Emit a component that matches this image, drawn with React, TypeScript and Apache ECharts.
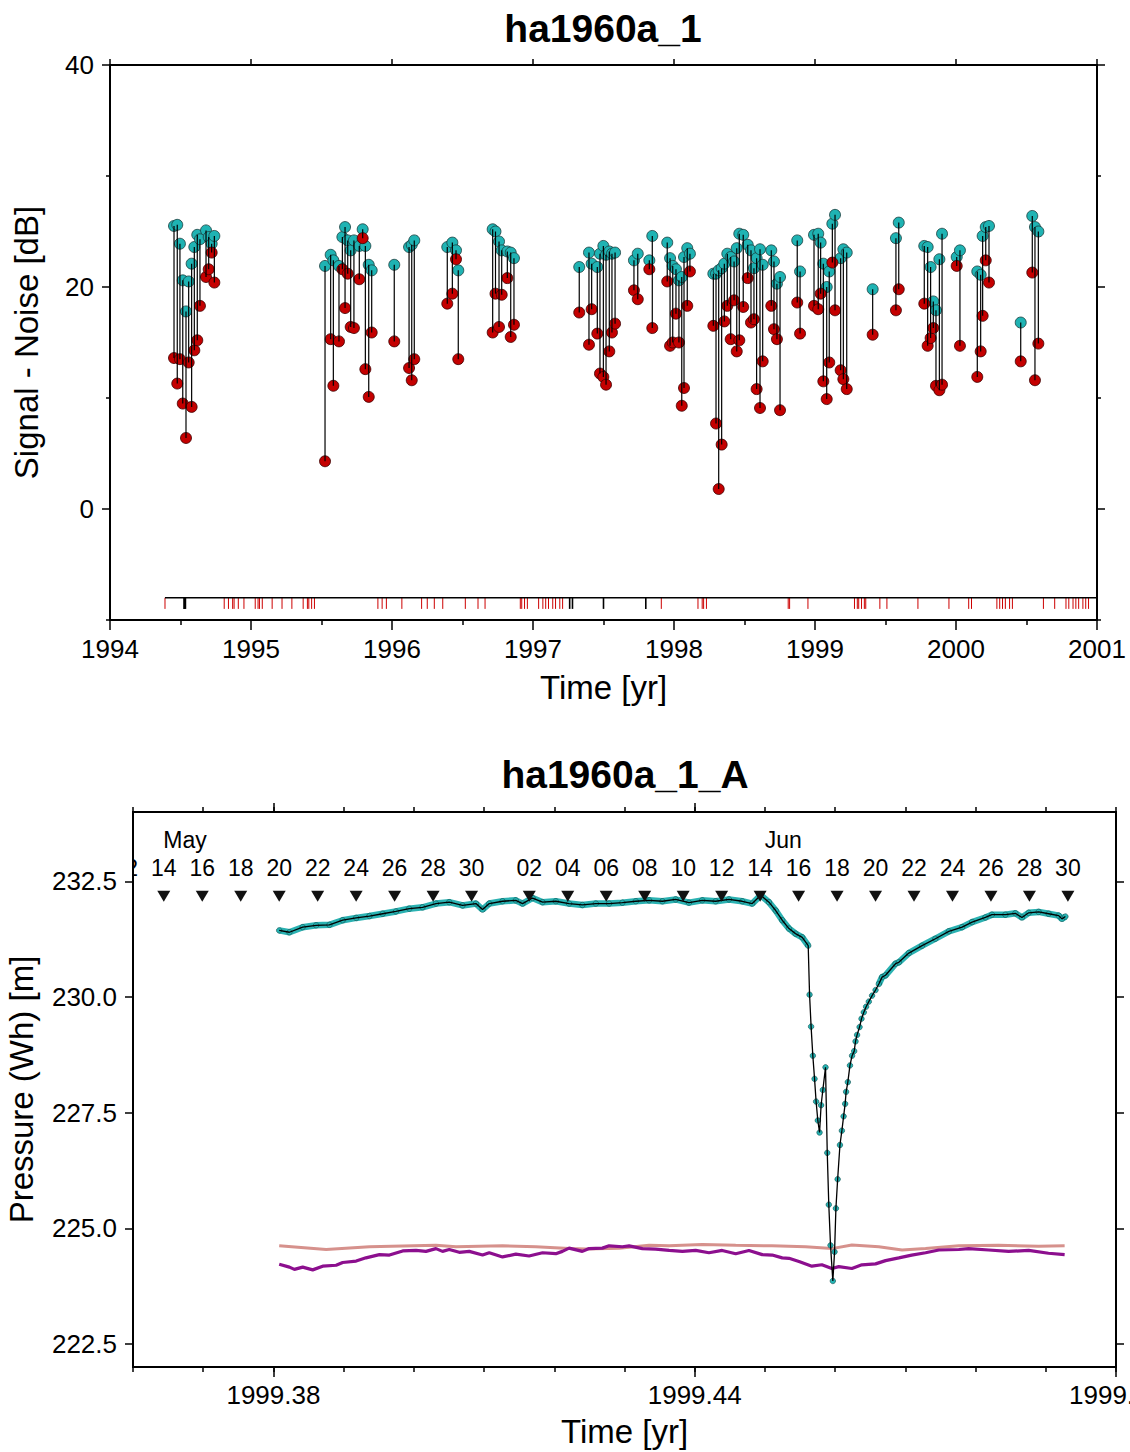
import React, { useEffect, useRef } from 'react';
import * as echarts from 'echarts';

const FONT = '"Liberation Sans", Arial, Helvetica, sans-serif';

// ---------- Top chart: ha1960a_1 (signal - noise) ----------
const topYears = [
  1994.454, 1994.477, 1994.496, 1994.516, 1994.539, 1994.558, 1994.579, 1994.598, 1994.619, 1994.638, 1994.681, 1994.700, 1994.721, 1994.740,
  1995.525, 1995.565, 1995.584, 1995.624, 1995.648, 1995.667, 1995.686, 1995.707, 1995.730, 1995.768, 1995.792, 1995.811, 1995.835, 1995.856,
  1996.016, 1996.121, 1996.140, 1996.158,
  1996.392, 1996.428, 1996.454, 1996.470,
  1996.714, 1996.734, 1996.759, 1996.778, 1996.818, 1996.842, 1996.865,
  1997.328, 1997.397, 1997.416, 1997.456, 1997.475, 1997.499, 1997.518, 1997.541, 1997.560, 1997.582,
  1997.716, 1997.743, 1997.825, 1997.846,
  1997.952, 1997.972, 1997.991, 1998.014, 1998.035, 1998.055, 1998.071, 1998.094, 1998.113,
  1998.279, 1998.298, 1998.317, 1998.338, 1998.357, 1998.378, 1998.402, 1998.426, 1998.445, 1998.463, 1998.491, 1998.523, 1998.546, 1998.567, 1998.586, 1998.610, 1998.629, 1998.690, 1998.709, 1998.730, 1998.752,
  1998.874, 1998.894,
  1998.993, 1999.023, 1999.040, 1999.059, 1999.083, 1999.101, 1999.123, 1999.142, 1999.182, 1999.201, 1999.225,
  1999.409, 1999.574, 1999.594,
  1999.775, 1999.799, 1999.820, 1999.839, 1999.858, 1999.882, 1999.901, 2000.005, 2000.028,
  2000.151, 2000.175, 2000.189, 2000.211, 2000.234,
  2000.459, 2000.541, 2000.560, 2000.584,
];

const tealValues = [
  25.5, 25.6, 23.9, 20.6, 17.8, 20.5, 22.1, 23.6, 24.7, 24.3, 25.1, 24.5, 23.9, 24.6,
  21.9, 22.9, 22.4, 21.9, 24.5, 25.4, 24.2, 23.3, 24.2, 23.7, 25.2, 23.7, 22.0, 21.5,
  22.0, 23.6, 23.8, 24.2,
  23.6, 24.0, 23.3, 21.5,
  25.2, 25.0, 24.1, 23.3, 23.2, 23.1, 22.6,
  21.8, 23.1, 22.1, 21.8, 23.0, 23.7, 22.9, 23.2, 23.0, 23.1,
  22.4, 23.0, 22.4, 24.6,
  24.0, 22.6, 21.9, 21.6, 20.6, 20.9, 22.7, 23.5, 23.0,
  21.2, 21.2, 21.5, 21.7, 22.1, 23.0, 22.7, 22.3, 23.5, 24.8, 24.7, 23.8, 23.3, 21.7, 22.6, 23.4, 22.0, 23.3, 22.3, 20.3, 20.9,
  24.2, 21.4,
  24.7, 24.8, 24.0, 22.1, 20.0, 21.4, 25.7, 26.5, 22.6, 23.4, 23.1,
  19.8, 24.4, 25.8,
  23.7, 23.6, 21.8, 18.7, 17.9, 22.5, 24.8, 22.7, 23.3,
  21.4, 21.1, 24.6, 25.4, 25.5,
  16.8, 26.4, 25.4, 25.0,
];

const redValues = [
  13.6, 11.3, 13.5, 9.5, 6.4, 13.2, 9.2, 14.3, 15.2, 18.3, 20.9, 21.6, 23.1, 20.4,
  4.3, 15.3, 11.1, 15.1, 21.6, 18.1, 21.2, 16.4, 16.3, 20.7, 24.4, 12.6, 10.1, 15.9,
  15.1, 12.7, 11.6, 13.5,
  18.5, 19.4, 22.5, 13.5,
  15.9, 19.4, 16.4, 19.3, 20.8, 15.5, 16.6,
  17.7, 14.8, 18.0, 15.8, 12.2, 11.9, 11.2, 14.2, 15.9, 16.7,
  19.7, 18.9, 21.6, 16.3,
  20.5, 14.7, 15.0, 17.6, 15.0, 9.3, 10.9, 18.3, 21.4,
  16.5, 7.7, 1.8, 5.8, 16.9, 18.3, 15.3, 18.8, 14.2, 15.2, 18.2, 20.8, 16.8, 17.1, 10.8, 9.1, 13.3, 18.3, 16.2, 15.3, 8.9,
  18.6, 15.8,
  18.3, 18.0, 19.4, 11.5, 9.9, 13.2, 22.2, 17.9, 12.5, 11.7, 10.8,
  15.7, 17.9, 19.8,
  18.5, 14.7, 15.4, 16.3, 11.1, 10.7, 11.2, 21.9, 14.7,
  11.9, 14.2, 17.4, 22.4, 20.4,
  13.3, 21.3, 11.6, 14.9,
];

// rug of event times along the bottom of the top panel
const rugStart = 1994.39;
const rugEnd = 2001;
const rugLevel = -8;
const rugDepth = -9;
const rugRedYears = [
  1994.39, 1994.81, 1994.84, 1994.87, 1994.88, 1994.91, 1994.95, 1995.03, 1995.05, 1995.06, 1995.08,
  1995.15, 1995.22, 1995.29, 1995.37, 1995.40, 1995.41, 1995.43, 1995.45,
  1995.90, 1995.93, 1995.96, 1996.07, 1996.21, 1996.25, 1996.30, 1996.36, 1996.52, 1996.61, 1996.66,
  1996.91, 1996.92, 1996.94, 1996.96, 1997.04, 1997.07, 1997.09, 1997.11, 1997.14, 1997.16, 1997.19, 1997.21,
  1997.91, 1998.17, 1998.20, 1998.21, 1998.23, 1998.81, 1998.82, 1998.95,
  1999.28, 1999.30, 1999.31, 1999.33, 1999.35, 1999.36, 1999.46, 1999.51, 1999.73, 1999.95,
  2000.09, 2000.11, 2000.29, 2000.31, 2000.33, 2000.35, 2000.38, 2000.40, 2000.62,
  2000.70, 2000.78, 2000.80, 2000.83, 2000.85, 2000.87, 2000.90, 2000.92, 2000.94,
];
const rugBlackYears = [1994.525, 1994.53, 1994.535, 1997.26, 1997.28, 1997.50, 1997.80];

// ---------- Bottom chart: ha1960a_1_A (pressure) ----------
const DATA_YEAR = 1999;
const DAYS_IN_YEAR = 365;
// day of year (0 = Jan 1 00:00)
const pressureDoy = [
  139.0, 139.53, 140.22, 140.92, 141.61, 142.30, 143.00, 143.69, 144.38, 145.07, 145.76, 146.45, 147.15, 147.84,
  148.53, 149.23, 149.57, 149.92, 150.61, 151.30, 151.65, 152.17, 152.69, 153.38, 154.07, 154.76, 155.46, 156.15,
  156.84, 157.54, 158.23, 158.92, 159.61, 160.30, 160.99, 161.69, 162.38, 163.07, 163.59, 164.03, 164.46, 164.81,
  165.15, 165.50, 165.84, 166.19, 166.50, 166.57, 166.65, 166.74, 166.83, 166.91, 167.00, 167.09, 167.17, 167.26,
  167.40, 167.49, 167.57, 167.66, 167.78, 167.87, 167.94, 168.03, 168.15, 168.25, 168.34, 168.42, 168.47, 168.56,
  168.67, 168.78, 168.89, 168.96, 169.04, 169.17, 169.27, 169.39, 169.51, 169.65, 169.82, 170.00, 170.17, 170.34,
  170.52, 171.04, 171.21, 171.73, 172.42, 173.11, 173.81, 174.50, 175.02, 175.71, 176.05, 176.75, 177.27, 177.61,
  177.96, 178.48, 179.00, 179.52, 179.69, 179.87,
];
const pressureVal = [
  231.44, 231.40, 231.51, 231.55, 231.56, 231.66, 231.71, 231.75, 231.80, 231.85, 231.91, 231.94, 232.02, 232.05,
  231.98, 232.02, 231.89, 232.02, 232.07, 232.09, 232.02, 232.14, 232.05, 232.07, 232.02, 231.99, 232.02, 232.02,
  232.04, 232.07, 232.09, 232.07, 232.11, 232.04, 232.09, 232.07, 232.11, 232.07, 232.02, 232.20, 232.05, 231.87,
  231.66, 231.48, 231.37, 231.29, 231.11, 230.05, 229.36, 228.73, 228.23, 227.74, 227.33, 227.07, 227.66, 227.99,
  228.48, 226.63, 225.51, 224.63, 223.86, 224.49, 225.43, 226.06, 226.80, 227.11, 227.42, 227.69, 227.95, 228.16,
  228.52, 228.73, 228.83, 229.04, 229.18, 229.35, 229.53, 229.67, 229.79, 229.90, 230.03, 230.15, 230.28, 230.43,
  230.47, 230.72, 230.75, 230.95, 231.11, 231.26, 231.42, 231.51, 231.62, 231.72, 231.78, 231.78, 231.81, 231.72,
  231.82, 231.84, 231.80, 231.76, 231.69, 231.74,
];

const pinkDoy = [
  139.0, 141.44, 143.69, 147.15, 148.19, 150.61, 152.34, 154.07, 154.94, 156.67, 158.23, 159.27, 160.99,
  162.73, 164.61, 166.36, 167.73, 168.77, 170.17, 171.38, 172.60, 174.33, 176.40, 178.48, 179.83,
];
const pinkVal = [
  224.62, 224.54, 224.60, 224.63, 224.60, 224.62, 224.60, 224.56, 224.55, 224.57, 224.63, 224.62, 224.65,
  224.63, 224.62, 224.60, 224.56, 224.64, 224.60, 224.53, 224.56, 224.62, 224.63, 224.61, 224.62,
];

const purpleDoy = [
  139.0, 139.53, 139.79, 140.22, 140.74, 141.26, 141.96, 142.30, 143.00, 143.51, 144.21, 144.73, 145.42, 146.11,
  146.63, 147.15, 147.49, 147.84, 148.36, 148.88, 149.57, 149.92, 150.61, 151.30, 151.99, 152.69, 153.38, 153.72,
  154.07, 154.76, 155.11, 155.80, 156.15, 156.84, 157.19, 157.88, 158.57, 159.27, 159.96, 160.65, 161.34, 162.03,
  162.73, 163.42, 164.11, 164.63, 165.15, 165.50, 166.02, 166.69, 167.21, 167.73, 168.09, 168.77, 169.29, 170.00,
  170.52, 171.21, 171.88, 172.60, 173.29, 174.33, 174.84, 175.88, 176.92, 177.96, 178.99, 179.83,
];
const purpleVal = [
  224.22, 224.16, 224.11, 224.16, 224.10, 224.18, 224.20, 224.26, 224.29, 224.36, 224.43, 224.42, 224.51, 224.52,
  224.50, 224.56, 224.50, 224.54, 224.48, 224.50, 224.42, 224.47, 224.38, 224.44, 224.40, 224.47, 224.45, 224.50,
  224.57, 224.50, 224.56, 224.57, 224.62, 224.60, 224.62, 224.56, 224.55, 224.52, 224.50, 224.52, 224.47, 224.52,
  224.45, 224.52, 224.43, 224.42, 224.36, 224.35, 224.28, 224.18, 224.21, 224.13, 224.17, 224.13, 224.21, 224.23,
  224.30, 224.36, 224.42, 224.47, 224.53, 224.54, 224.56, 224.53, 224.50, 224.52, 224.46, 224.43,
];

// calendar annotation along the top of the bottom panel
const monthStartDoy: Record<number, number> = { 5: 120, 6: 151 };
const dayMarks: [number, number][] = [
  [5, 12], [5, 14], [5, 16], [5, 18], [5, 20], [5, 22], [5, 24], [5, 26], [5, 28], [5, 30],
  [6, 2], [6, 4], [6, 6], [6, 8], [6, 10], [6, 12], [6, 14], [6, 16], [6, 18], [6, 20], [6, 22], [6, 24], [6, 26], [6, 28], [6, 30],
];
const monthNames = ['May', 'Jun'];
const monthLabelDoy = [134.1, 165.2];
const monthLabelLevel = 233.39;
const dayLabelLevel = 232.78;
const triangleLevel = 232.18;

const topXTicks = [1994, 1995, 1996, 1997, 1998, 1999, 2000, 2001];
const topYLabels = [0, 20, 40];
const topYMinor = [-10, 10, 30];
const bottomXLabels = [1999.38, 1999.44, 1999.5];
const bottomYLabels = [222.5, 225, 227.5, 230, 232.5];
const bandGap = [166.55, 170.1];

const toYear = (doy: number) => DATA_YEAR + doy / DAYS_IN_YEAR;

export default function App() {
  const ref = useRef<HTMLDivElement>(null);
  useEffect(() => {
    document.body.style.margin = '0';
    if (!ref.current) return;
    const chart = echarts.init(ref.current, null, { renderer: 'svg' });

    const tickStyle = { color: '#000', width: 1.5 };
    const labelStyle = { fontSize: 26, color: '#000', fontFamily: FONT };
    const nameStyle = { fontSize: 33, color: '#000', fontFamily: FONT };
    const noLine = { show: false, onZero: false };
    const noSplit = { show: false };

    const stems = topYears.map((t, i) => [t, tealValues[i], redValues[i]]);
    const pressureData = pressureDoy.map((d, i) => [toYear(d), pressureVal[i]]);
    const bandData: any[] = [];
    pressureDoy.forEach((d, i) => {
      if (d > bandGap[0] && d < bandGap[1]) {
        if (bandData.length && bandData[bandData.length - 1] !== '-') bandData.push('-');
      } else bandData.push([toYear(d), pressureVal[i]]);
    });
    const dayDoy = dayMarks.map(([m, d]) => monthStartDoy[m] + d - 1);
    const dayTexts = dayMarks.map(([, d]) => (d < 10 ? '0' + d : String(d)));

    const vertLine = (color: string, width: number) => (params: any, api: any) => {
      const a = api.coord([api.value(0), api.value(1)]);
      const b = api.coord([api.value(0), api.value(2)]);
      return { type: 'line', shape: { x1: a[0], y1: a[1], x2: b[0], y2: b[1] }, style: { stroke: color, lineWidth: width } };
    };

    const option: any = {
      animation: false,
      backgroundColor: '#fff',
      graphic: [
        { type: 'text', x: 603, y: 28, style: { text: 'ha1960a_1', fontSize: 39, fontWeight: 'bold', fontFamily: FONT, fill: '#000', align: 'center', verticalAlign: 'middle' } },
        { type: 'text', x: 625, y: 774, style: { text: 'ha1960a_1_A', fontSize: 39, fontWeight: 'bold', fontFamily: FONT, fill: '#000', align: 'center', verticalAlign: 'middle' } },
      ],
      grid: [
        { left: 110, top: 65, width: 987, height: 555, show: true, borderColor: '#000', borderWidth: 2, backgroundColor: 'transparent', outerBoundsMode: 'none', containLabel: false },
        { left: 133, top: 812, width: 983, height: 555, show: true, borderColor: '#000', borderWidth: 2, backgroundColor: 'transparent', outerBoundsMode: 'none', containLabel: false },
      ],
      xAxis: [
        {
          gridIndex: 0, type: 'value', position: 'bottom', min: 1994, max: 2001, interval: 1,
          axisLine: noLine, splitLine: noSplit,
          axisTick: { show: true, inside: false, length: 10, lineStyle: tickStyle },
          minorTick: { show: true, splitNumber: 2, length: 5, lineStyle: tickStyle },
          minorSplitLine: noSplit,
          axisLabel: { ...labelStyle, margin: 16, formatter: (v: number) => String(Math.round(v)), customValues: topXTicks },
          name: 'Time [yr]', nameLocation: 'middle', nameGap: 51, nameTextStyle: nameStyle,
        },
        {
          gridIndex: 0, type: 'value', position: 'top', min: 1994, max: 2001, interval: 1,
          axisLine: noLine, splitLine: noSplit, axisLabel: { show: false },
          axisTick: { show: true, inside: false, length: 6, lineStyle: tickStyle },
        },
        {
          gridIndex: 1, type: 'value', position: 'bottom', min: 1999.36, max: 1999.5, interval: 0.01,
          axisLine: noLine, splitLine: noSplit,
          axisTick: { show: true, inside: false, length: 5, lineStyle: tickStyle },
          axisLabel: {
            ...labelStyle, margin: 15, customValues: bottomXLabels, showMaxLabel: true,
            formatter: (v: number) => (bottomXLabels.some((l) => Math.abs(l - v) < 1e-6) ? v.toFixed(2) : ''),
          },
          name: 'Time [yr]', nameLocation: 'middle', nameGap: 48, nameTextStyle: nameStyle,
        },
        {
          gridIndex: 1, type: 'value', position: 'bottom', min: 1999.36, max: 1999.5, interval: 0.01,
          axisLine: noLine, splitLine: noSplit, axisLabel: { show: false },
          axisTick: { show: true, inside: false, length: 10, lineStyle: tickStyle, customValues: bottomXLabels },
        },
        {
          gridIndex: 1, type: 'value', position: 'top', min: 1999.36, max: 1999.5, interval: 0.01,
          axisLine: noLine, splitLine: noSplit, axisLabel: { show: false },
          axisTick: { show: true, inside: false, length: 5, lineStyle: tickStyle },
        },
        {
          gridIndex: 1, type: 'value', position: 'top', min: 1999.36, max: 1999.5, interval: 0.01,
          axisLine: noLine, splitLine: noSplit, axisLabel: { show: false },
          axisTick: { show: true, inside: false, length: 9, lineStyle: tickStyle, customValues: bottomXLabels.slice(0, 2) },
        },
      ],
      yAxis: [
        {
          gridIndex: 0, type: 'value', position: 'left', min: -10, max: 40, interval: 10,
          axisLine: noLine, splitLine: noSplit,
          axisTick: { show: true, inside: false, length: 8, lineStyle: tickStyle, customValues: topYLabels },
          axisLabel: {
            ...labelStyle, margin: 16, customValues: topYLabels,
            formatter: (v: number) => (topYLabels.includes(v) ? String(v) : ''),
          },
          name: 'Signal - Noise [dB]', nameLocation: 'middle', nameGap: 67, nameRotate: 90, nameTextStyle: nameStyle,
        },
        {
          gridIndex: 0, type: 'value', position: 'left', min: -10, max: 40, interval: 10,
          axisLine: noLine, splitLine: noSplit, axisLabel: { show: false },
          axisTick: { show: true, inside: false, length: 4, lineStyle: tickStyle, customValues: topYMinor },
        },
        {
          gridIndex: 0, type: 'value', position: 'right', min: -10, max: 40, interval: 10,
          axisLine: noLine, splitLine: noSplit, axisLabel: { show: false },
          axisTick: { show: true, inside: false, length: 8, lineStyle: tickStyle, customValues: topYLabels },
        },
        {
          gridIndex: 0, type: 'value', position: 'right', min: -10, max: 40, interval: 10,
          axisLine: noLine, splitLine: noSplit, axisLabel: { show: false },
          axisTick: { show: true, inside: false, length: 4, lineStyle: tickStyle, customValues: topYMinor },
        },
        {
          gridIndex: 1, type: 'value', position: 'left', min: 222, max: 234, interval: 0.5,
          axisLine: noLine, splitLine: noSplit,
          axisTick: { show: true, inside: false, length: 8, lineStyle: tickStyle, customValues: bottomYLabels },
          axisLabel: {
            ...labelStyle, margin: 16, customValues: bottomYLabels,
            formatter: (v: number) => (bottomYLabels.some((l) => Math.abs(l - v) < 1e-6) ? v.toFixed(1) : ''),
          },
          name: 'Pressure (Wh) [m]', nameLocation: 'middle', nameGap: 95, nameRotate: 90, nameTextStyle: nameStyle,
        },
        {
          gridIndex: 1, type: 'value', position: 'right', min: 222, max: 234, interval: 0.5,
          axisLine: noLine, splitLine: noSplit, axisLabel: { show: false },
          axisTick: { show: true, inside: false, length: 8, lineStyle: tickStyle, customValues: bottomYLabels },
        },
      ],
      series: [
        // ---- top panel ----
        {
          type: 'scatter', xAxisIndex: 0, yAxisIndex: 0, z: 3,
          data: topYears.map((t, i) => [t, tealValues[i]]),
          symbol: 'circle', symbolSize: 11,
          itemStyle: { color: '#1fb3b3', borderColor: '#1c3c3c', borderWidth: 0.8, opacity: 1 },
        },
        {
          type: 'scatter', xAxisIndex: 0, yAxisIndex: 0, z: 4,
          data: topYears.map((t, i) => [t, redValues[i]]),
          symbol: 'circle', symbolSize: 11,
          itemStyle: { color: '#c40000', borderColor: '#3a0000', borderWidth: 0.8, opacity: 1 },
        },
        {
          type: 'custom', xAxisIndex: 0, yAxisIndex: 0, z: 5,
          data: stems, encode: { x: 0, y: [1, 2] },
          renderItem: vertLine('#000', 1.2),
        },
        {
          type: 'line', xAxisIndex: 0, yAxisIndex: 0, z: 5, showSymbol: false, symbol: 'none',
          data: [[rugStart, rugLevel], [rugEnd, rugLevel]],
          lineStyle: { color: '#000', width: 1.5 },
        },
        {
          type: 'custom', xAxisIndex: 0, yAxisIndex: 0, z: 5,
          data: rugRedYears.map((t) => [t, rugLevel, rugDepth]), encode: { x: 0, y: [1, 2] },
          renderItem: vertLine('#cc0000', 1),
        },
        {
          type: 'custom', xAxisIndex: 0, yAxisIndex: 0, z: 6,
          data: rugBlackYears.map((t) => [t, rugLevel, rugDepth]), encode: { x: 0, y: [1, 2] },
          renderItem: vertLine('#000', 1.6),
        },
        // ---- bottom panel ----
        {
          type: 'line', xAxisIndex: 2, yAxisIndex: 4, z: 2, showSymbol: false, symbol: 'none',
          data: pinkDoy.map((d, i) => [toYear(d), pinkVal[i]]),
          lineStyle: { color: '#d6918c', width: 3 },
        },
        {
          type: 'line', xAxisIndex: 2, yAxisIndex: 4, z: 2, showSymbol: false, symbol: 'none',
          data: purpleDoy.map((d, i) => [toYear(d), purpleVal[i]]),
          lineStyle: { color: '#8c0f8e', width: 3.2 },
        },
        {
          type: 'line', xAxisIndex: 2, yAxisIndex: 4, z: 3, showSymbol: false, symbol: 'none', connectNulls: false,
          data: bandData,
          lineStyle: { color: '#2bb2b2', width: 6.5 },
        },
        {
          type: 'scatter', xAxisIndex: 2, yAxisIndex: 4, z: 4,
          data: pressureData, symbol: 'circle', symbolSize: 5.5,
          itemStyle: { color: '#25b4b4', borderColor: '#114d4d', borderWidth: 0.6, opacity: 1 },
        },
        {
          type: 'line', xAxisIndex: 2, yAxisIndex: 4, z: 5, showSymbol: false, symbol: 'none',
          data: pressureData,
          lineStyle: { color: '#000', width: 1.3 },
        },
        {
          type: 'scatter', xAxisIndex: 2, yAxisIndex: 4, z: 5,
          data: dayDoy.map((d) => [toYear(d), triangleLevel]),
          symbol: 'triangle', symbolRotate: 180, symbolSize: [13, 11],
          itemStyle: { color: '#111', opacity: 1 },
        },
        {
          type: 'custom', xAxisIndex: 2, yAxisIndex: 4, z: 5, clip: true,
          data: dayDoy.map((d) => [toYear(d), dayLabelLevel]), encode: { x: 0, y: 1 },
          renderItem: (params: any, api: any) => {
            const p = api.coord([api.value(0), api.value(1)]);
            return {
              type: 'text', x: p[0], y: p[1],
              style: { text: dayTexts[params.dataIndex], fontSize: 23, fontFamily: FONT, fill: '#000', align: 'center', verticalAlign: 'middle' },
            };
          },
        },
        {
          type: 'custom', xAxisIndex: 2, yAxisIndex: 4, z: 5, clip: true,
          data: monthLabelDoy.map((d) => [toYear(d), monthLabelLevel]), encode: { x: 0, y: 1 },
          renderItem: (params: any, api: any) => {
            const p = api.coord([api.value(0), api.value(1)]);
            return {
              type: 'text', x: p[0], y: p[1],
              style: { text: monthNames[params.dataIndex], fontSize: 23, fontFamily: FONT, fill: '#000', align: 'center', verticalAlign: 'middle' },
            };
          },
        },
      ],
    };
    chart.setOption(option);
    return () => chart.dispose();
  }, []);
  return <div ref={ref} style={{ width: 1130, height: 1452 }} />;
}
